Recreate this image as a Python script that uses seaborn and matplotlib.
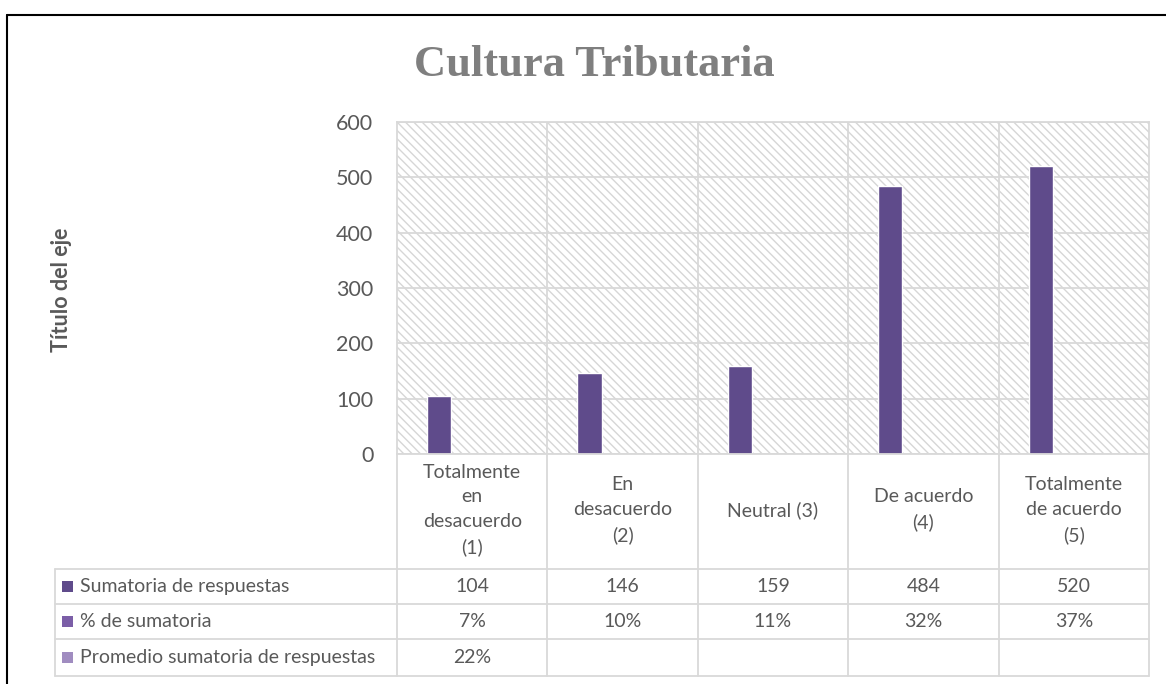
import pandas as pd
import matplotlib.pyplot as plt
import seaborn as sns
from matplotlib.patches import Rectangle
from matplotlib.lines import Line2D


categorias = ['Totalmente\nen\ndesacuerdo\n(1)', 'En\ndesacuerdo\n(2)', 'Neutral (3)',
              'De acuerdo\n(4)', 'Totalmente\nde acuerdo\n(5)']
series = ['Sumatoria de respuestas', '% de sumatoria', 'Promedio sumatoria de respuestas']
sumatoria = [104, 146, 159, 484, 520]
porcentaje = [0.07, 0.10, 0.11, 0.32, 0.37]
promedio = [0.22, None, None, None, None]
colores = ['#5F4B8B', '#7B5EA7', '#A08CC0']

filas = []
for serie, valores in zip(series, [sumatoria, porcentaje, promedio]):
    for cat, v in zip(categorias, valores):
        filas.append({'Categoria': cat, 'Serie': serie, 'Valor': v})
df = pd.DataFrame(filas)

sns.set_style('white')
plt.rcParams['font.family'] = ['Lato', 'DejaVu Sans']
gris_txt = '#595959'
gris_lin = '#D9D9D9'
fs = 14

fig = plt.figure(figsize=(11.66, 6.84), dpi=100)
ax = fig.add_axes([397 / 1166, 1 - 454 / 684, 752 / 1166, 332 / 684])

fondo = Rectangle((0, 0), 1, 1, transform=ax.transAxes, facecolor='white',
                  edgecolor='#D6D6D6', lw=0, hatch='\\\\\\\\', zorder=0)
ax.add_patch(fondo)

sns.barplot(data=df, x='Categoria', y='Valor', hue='Serie', palette=colores,
            saturation=1, width=0.66, gap=0.27, legend=False, ax=ax, zorder=2)

ax.set_ylim(0, 600)
ax.set_xlim(-0.5, 4.5)
ax.set_yticks(range(0, 601, 100))
ax.set_xticks([])
ax.set_xlabel('')
ax.set_ylabel('')
ax.tick_params(axis='y', length=0, pad=17, labelsize=15.5, labelcolor=gris_txt)
ax.set_axisbelow(True)
ax.yaxis.grid(True, color=gris_lin, lw=1.3)
for x in range(1, 5):
    ax.axvline(x - 0.5, color=gris_lin, lw=1.3, zorder=1)
for s in ax.spines.values():
    s.set_color(gris_lin)
    s.set_linewidth(1.3)

# tabla de datos
def yax(ypix):
    return (454 - ypix) / 332

def xax(xpix):
    return (xpix - 397) / 752

filas_y = [569, 604, 639, 676]
x_izq = xax(55)
for yp in filas_y:
    ax.add_line(Line2D([x_izq, 1], [yax(yp)] * 2, transform=ax.transAxes,
                       color=gris_lin, lw=1.3, clip_on=False))
ax.add_line(Line2D([x_izq, x_izq], [yax(569), yax(676)], transform=ax.transAxes,
                   color=gris_lin, lw=1.3, clip_on=False))
for k in range(6):
    ax.add_line(Line2D([k / 5, k / 5], [0, yax(676)], transform=ax.transAxes,
                       color=gris_lin, lw=1.3, clip_on=False))

trans = ax.get_xaxis_transform()
for i, cat in enumerate(categorias):
    ax.text(i, yax(510), cat, transform=trans, ha='center', va='center',
            multialignment='center', linespacing=1.55, fontsize=fs, color=gris_txt)

textos = [[str(v) for v in sumatoria],
          [f'{round(v * 100)}%' for v in porcentaje],
          [f'{round(v * 100)}%' if v is not None else '' for v in promedio]]
for r, (serie, color, fila) in enumerate(zip(series, colores, textos)):
    yc = yax((filas_y[r] + filas_y[r + 1]) / 2)
    ax.add_patch(Rectangle((xax(62), yc - 5.5 / 332), 11 / 752, 11 / 332,
                           transform=ax.transAxes, facecolor=color, lw=0, clip_on=False))
    ax.text(xax(80), yc, serie, transform=ax.transAxes, ha='left', va='center',
            fontsize=fs, color=gris_txt)
    for i, t in enumerate(fila):
        ax.text(i, yc, t, transform=trans, ha='center', va='center',
                fontsize=fs, color=gris_txt)

fig.text(594 / 1166, 1 - 65 / 684, 'Cultura Tributaria', ha='center', va='center',
         fontsize=32, fontweight='bold', color='#7F7F7F', family='Liberation Serif')
fig.text(61 / 1166, 1 - 290 / 684, 'Título del eje', rotation=90, ha='center',
         va='center', fontsize=15.5, fontweight='bold', color=gris_txt)

fig.add_artist(Line2D([7 / 1166, 1], [1 - 15 / 684] * 2, transform=fig.transFigure,
                      color='black', lw=1.5))
fig.add_artist(Line2D([7 / 1166] * 2, [0, 1 - 15 / 684], transform=fig.transFigure,
                      color='black', lw=1.5))

fig.savefig('out.png', dpi=100)
